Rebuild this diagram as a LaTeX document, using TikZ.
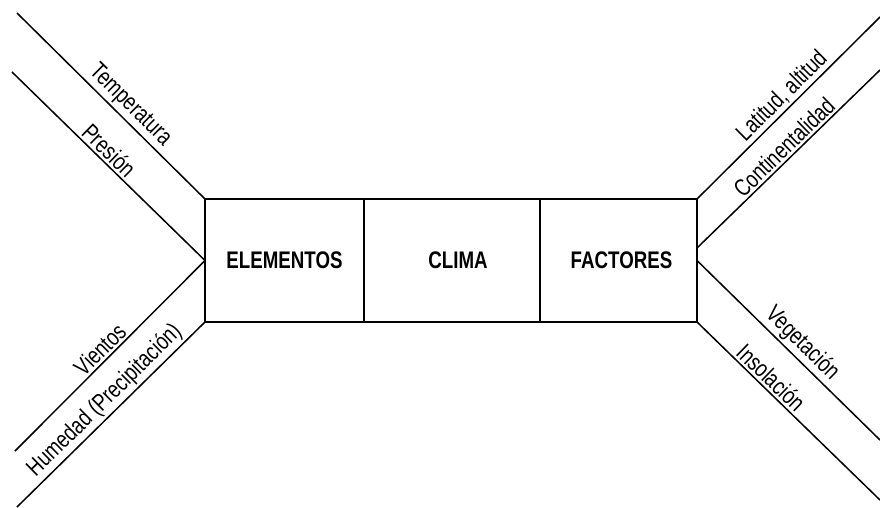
\documentclass[tikz,border=0pt]{standalone}
\usepackage{fontspec}
\setmainfont{Liberation Sans}[FakeStretch=0.78]
\begin{document}
\begin{tikzpicture}[x=1pt,y=-1pt,
  cell/.style={draw, line width=1.7pt, minimum height=123pt, inner sep=0pt, outer sep=0pt, font=\fontsize{24}{26}\selectfont\bfseries},
  ln/.style={line width=1.5pt},
  lab/.style={sloped, above, inner sep=2.2pt, font=\fontsize{24}{26}\selectfont}]
\fill[white] (0,0) rectangle (880,507);
\useasboundingbox (0,0) rectangle (880,507);
\node[cell, minimum width=159pt] (elem) at (284.5,260.5) {ELEMENTOS};
\node[cell, minimum width=176pt] (clima) at (452,260.5) {\hspace*{12pt}CLIMA};
\node[cell, minimum width=157pt] (fact) at (618.5,260.5) {\hspace*{6pt}FACTORES};
\coordinate (t0) at (17,13);
\coordinate (p0) at (12,72);
\coordinate (v0) at (15,451);
\coordinate (h0) at (17,507);
\coordinate (l1) at (880,17);
\coordinate (c1) at (880,70);
\coordinate (g1) at (880,440);
\coordinate (i1) at (880,500);
\draw[ln] (t0) -- (elem.north west) node[lab, pos=0.55] {Temperatura};
\draw[ln] (p0) -- (elem.west) node[lab, pos=0.46] {Presión};
\draw[ln] (v0) -- (elem.west) node[lab, pos=0.49] {Vientos};
\draw[ln] (h0) -- (elem.south west) node[lab, pos=0.52] {Humedad (Precipitación)};
\draw[ln] (fact.north east) -- (l1) node[lab, pos=0.515] {Latitud, altitud};
\draw[ln] ([yshift=12.5pt]fact.east) -- (c1) node[lab, pos=0.52] {Continentalidad};
\draw[ln] (fact.east) -- (g1) node[lab, pos=0.52] {Vegetación};
\draw[ln] (fact.south east) -- (i1) node[lab, pos=0.36] {Insolación};
\end{tikzpicture}
\end{document}
